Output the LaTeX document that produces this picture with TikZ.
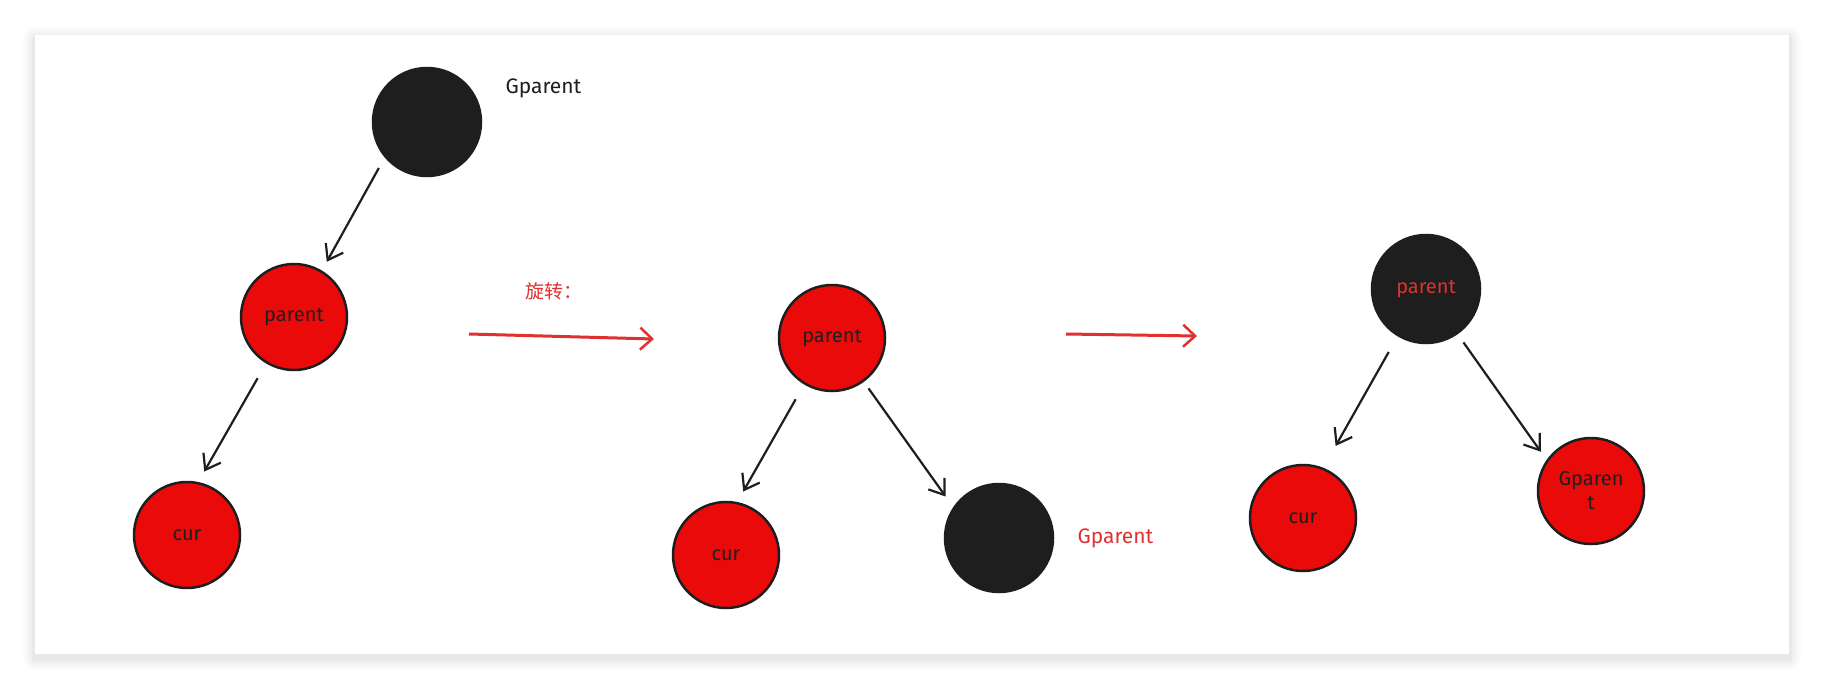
\documentclass[tikz,border=0pt]{standalone}
\usepackage{fontspec}
\setmainfont{Fira Sans}
\newfontfamily\cjk{Noto Sans CJK SC}
\usetikzlibrary{arrows.meta}
\definecolor{nodered}{HTML}{EB0A0A}
\definecolor{nodeblack}{HTML}{1E1E1E}
\definecolor{arrowred}{HTML}{E03131}
\begin{document}
\begin{tikzpicture}[x=1pt,y=-1pt,
  rednode/.style={circle,draw=nodeblack,line width=2.5pt,fill=nodered,minimum size=106pt,inner sep=0pt,align=center,font=\fontsize{20}{24}\selectfont,text=nodeblack},
  blacknode/.style={circle,draw=nodeblack,line width=2.5pt,fill=nodeblack,minimum size=108pt,inner sep=0pt,align=center,font=\fontsize{20}{24}\selectfont,text=arrowred},
  edge/.style={draw=nodeblack,line width=2.2pt,-{Straight Barb[length=14pt,width=20pt,line width=2.2pt]}},
  redarrow/.style={draw=arrowred,line width=3pt,-{Straight Barb[length=12pt,width=22pt,line width=2.5pt]}},
  lbl/.style={font=\fontsize{21}{25}\selectfont}
]
\useasboundingbox (0,0) rectangle (1825,690);
\fill[white] (0,0) rectangle (1825,690);
\foreach \i/\o in {12/0.015,9/0.02,6/0.025,3/0.03}{
  \fill[black,opacity=\o,rounded corners=\i pt] (35-\i,35-\i+4) rectangle (1789+\i,654+\i+4);
}
\fill[white] (35,35) rectangle (1789,654);

% left tree
\node[blacknode] (g1) at (427,122) {};
\node[lbl,text=nodeblack,anchor=west] (g1l) at (502,88) {Gparent};
\node[rednode] (p1) at (294,317) {parent};
\node[rednode] (c1) at (187,535) {cur};
\draw[edge,shorten <=12pt,shorten >=10pt] (g1.220) -- (p1.59);
\draw[edge,shorten <=17pt,shorten >=12pt] (p1.239) -- (c1.78);

% middle tree
\node[rednode] (p2) at (832,338) {parent};
\node[rednode] (c2) at (726,555) {cur};
\node[blacknode] (g2) at (999,538) {};
\node[lbl,text=arrowred,anchor=west] (g2l) at (1074,538) {Gparent};
\draw[edge,shorten <=17pt,shorten >=12pt] (p2.239) -- (c2.78);
\draw[edge,shorten <=8pt,shorten >=13pt] (p2.306) -- (g2.146);

% rotation arrows
\coordinate (r1s) at (469,334);
\coordinate (r1e) at (654,339);
\draw[redarrow] (r1s) -- (r1e);
\node[font=\cjk\fontsize{19}{22}\selectfont,text=arrowred] (rot) at (554,291) {旋转：};
\coordinate (r2s) at (1066,334);
\coordinate (r2e) at (1197,336);
\draw[redarrow] (r2s) -- (r2e);

% right tree
\node[blacknode] (p3) at (1426,289) {parent};
\node[rednode] (c3) at (1303,518) {cur};
\node[rednode] (g3) at (1591,491) {Gparen\\t};
\draw[edge,shorten <=18pt,shorten >=25pt] (p3.239) -- (c3.68);
\draw[edge,shorten <=10pt,shorten >=10pt] (p3.305) -- (g3.145);
\end{tikzpicture}
\end{document}
